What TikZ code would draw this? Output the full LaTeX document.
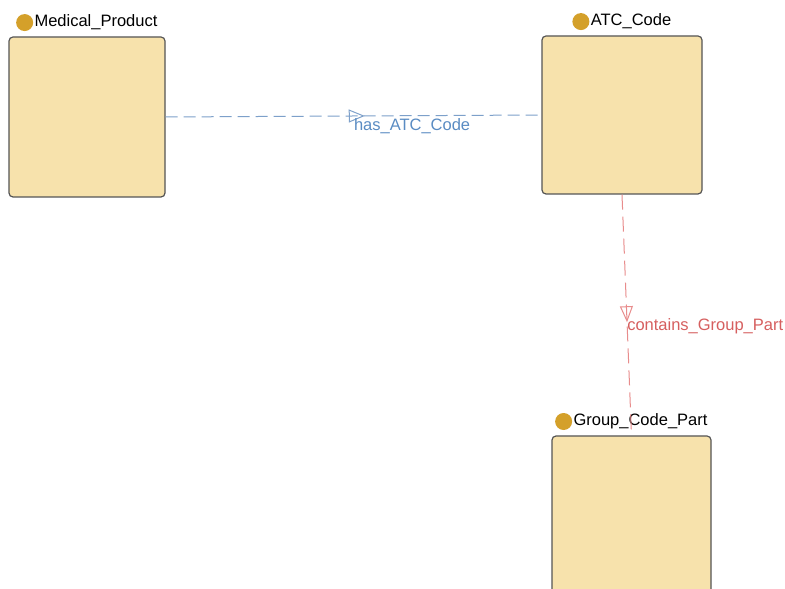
\documentclass[tikz,border=0pt]{standalone}
\usepackage{fontspec}
\setmainfont{Liberation Sans}
\usetikzlibrary{positioning,arrows.meta,decorations.markings}
\definecolor{boxfill}{RGB}{247,226,172}
\definecolor{boxline}{RGB}{85,85,85}
\definecolor{dotfill}{RGB}{212,160,42}
\definecolor{blueline}{RGB}{125,160,202}
\definecolor{bluetext}{RGB}{90,140,195}
\definecolor{redline}{RGB}{232,140,140}
\definecolor{redtext}{RGB}{214,95,95}
\tikzset{
  classbox/.style={draw=boxline,fill=boxfill,line width=1.2pt,rounded corners=4pt,inner sep=0pt},
  title/.style={inner sep=0pt,font=\fontsize{16.5}{18}\selectfont},
  classdot/.style={circle,fill=dotfill,inner sep=0pt,minimum size=17pt},
  relation/.style={dashed,line width=1pt,postaction={decorate},
    decoration={markings,mark=at position #1 with {\arrow{Triangle[open,length=16pt,width=13pt]}}}},
  edgelabel/.style={inner sep=0pt,anchor=west,font=\fontsize{16.5}{18}\selectfont}
}
\begin{document}
\begin{tikzpicture}[x=1pt,y=1pt]
      \useasboundingbox[fill=white] (0,0) rectangle (785,589);
      % classes
      \node[classbox,minimum width=156pt,minimum height=160pt] (mp) at (87,472) {};
      \node[classbox,minimum width=160pt,minimum height=158pt] (atc) at (622,474) {};
      \node[classbox,minimum width=159pt,minimum height=160pt] (gcp) at (631.5,73) {};
      % titles
      \node[title,above=6pt of mp.north,xshift=9pt] (mptitle) {Medical\_Product};
      \node[classdot,left=1pt of mptitle] (mpdot) {};
      \node[title,above=6pt of atc.north,xshift=9pt] (atctitle) {ATC\_Code};
      \node[classdot,left=1pt of atctitle] (atcdot) {};
      \node[title,above=6pt of gcp.north,xshift=9pt] (gcptitle) {Group\_Code\_Part};
      \node[classdot,left=1pt of gcptitle] (gcpdot) {};
      % relations
      \begin{scope}
        \draw[relation=0.53,blueline,dash pattern=on 12pt off 6pt] (mp.east) -- (atc.west)
          node[edgelabel,pos=0.5,yshift=-10pt,text=bluetext] (hasatc) {has\_ATC\_Code};
        \draw[relation=0.53,redline,dash pattern=on 15pt off 7pt] (atc.south) -- (gcp.north)
          node[edgelabel,pos=0.5,yshift=-11pt,text=redtext] (contains) {contains\_Group\_Part};
      \end{scope}
    \end{tikzpicture}
\end{document}
